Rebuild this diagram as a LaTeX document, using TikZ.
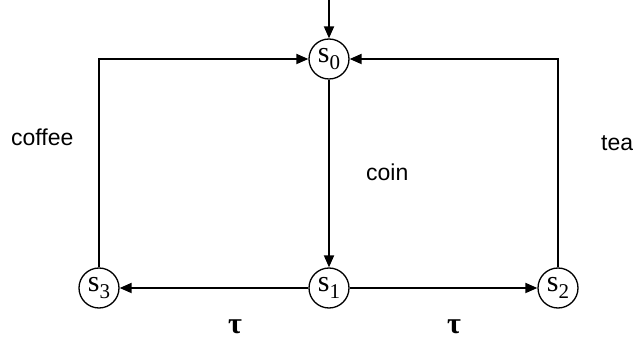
\documentclass[tikz,border=0pt]{standalone}
\usepackage{fontspec}
\setmainfont{Liberation Serif}
\setsansfont{Liberation Sans}
\usetikzlibrary{arrows.meta}
\newcommand{\stl}[1]{s\raisebox{-0.22em}{\fontsize{21}{21}\selectfont #1}}
\begin{document}
\begin{tikzpicture}[x=1pt,y=-1pt,
  state/.style={circle,draw,line width=1.3pt,minimum size=40pt,inner sep=0pt,
    font=\fontsize{30}{30}\selectfont},
  lab/.style={font=\sffamily\fontsize{23}{23}\selectfont,inner sep=0pt},
  taulab/.style={font=\bfseries\fontsize{30}{30}\selectfont,inner sep=0pt},
  tr/.style={line width=1.8pt,-{Triangle[length=12pt,width=10pt]}}]
\useasboundingbox (0,0) rectangle (633,339);
\node[state] (s0) at (329,59) {\stl{0}};
\node[state] (s1) at (329,288) {\stl{1}};
\node[state] (s3) at (99,288) {\stl{3}};
\node[state] (s2) at (558,288) {\stl{2}};
\coordinate (init) at (329,0);
\coordinate (cl) at (99,59);
\coordinate (cr) at (558,59);
\draw[tr] (init) -- (s0);
\draw[tr] (s0) -- (s1);
\draw[tr] (s1) -- (s3);
\draw[tr] (s1) -- (s2);
\draw[tr] (s3) -- (cl) -- (s0);
\draw[tr] (s2) -- (cr) -- (s0);
\node[lab,anchor=west] (lcoffee) at (11,137) {coffee};
\node[lab,anchor=west] (lcoin) at (366,172) {coin};
\node[lab,anchor=west] (ltea) at (601,143) {tea};
\node[taulab] (ltau1) at (235,327) {τ};
\node[taulab] (ltau2) at (454,327) {τ};
\end{tikzpicture}
\end{document}
